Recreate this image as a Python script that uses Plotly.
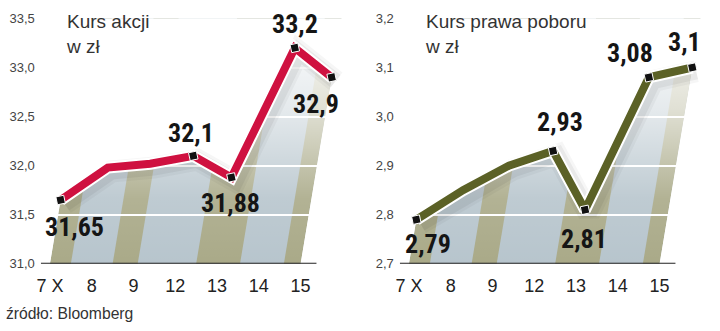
import plotly.graph_objects as go

# ---------------- data ----------------
days = ["7 X", "8", "9", "12", "13", "14", "15"]
kurs_akcji = [31.65, 31.98, 32.02, 32.10, 31.88, 33.20, 32.90]
kurs_pp = [2.79, 2.85, 2.90, 2.93, 2.81, 3.08, 3.10]
labeled = [True, False, False, True, True, True, True]
akcji_ticks = [31.0, 31.5, 32.0, 32.5, 33.0, 33.5]
pp_ticks = [2.7, 2.8, 2.9, 3.0, 3.1, 3.2]

# ---------------- style / layout ----------------
W, H = 720, 331
PX_PER_IDX = 42.0
XR = [-0.22, 7.2]
SKEW = 0.16 * 257 / PX_PER_IDX      # index shift over full y range
STRIPES = [(0.0, 0.5), (1.5, 2.1), (3.5, 4.55), (5.6, 6.0)]
KHAKI = "#a8a886"
BLUE = "#b6c4cc"
LABEL_FONT = ("Noto Sans ExtraCondensed, Noto Sans Condensed, Roboto Condensed, "
              "Liberation Sans Narrow, Arial Narrow, DejaVu Sans Condensed, sans-serif")
PLAIN_FONT = "Liberation Sans, Arial, sans-serif"

panels = [
    dict(vals=kurs_akcji, ticks=akcji_ticks, color="#cf1140", left=37,
         title="Kurs akcji<br>w zł",
         offs=[(14, -27), None, None, (-2, 23), (-1, -26), (0, 24), (-16, -27)]),
    dict(vals=kurs_pp, ticks=pp_ticks, color="#5b6126", left=398,
         title="Kurs prawa poboru<br>w zł",
         offs=[(12, -24), None, None, (7, 29), (-1, -29), (-19, 24), (-8, 26)]),
]

y_dom = [(H - 269) / H, (H - 12) / H]
fig = go.Figure()
shapes, annotations = [], []
layout_axes = {}

for p_i, p in enumerate(panels):
    sfx = "" if p_i == 0 else str(p_i + 1)
    xa, ya = "x" + sfx, "y" + sfx
    vals = p["vals"]
    ymin, ymax = p["ticks"][0], p["ticks"][-1]
    yr = ymax - ymin
    ppu_y = 257 / yr
    last = len(days) - 1
    xs = [i + SKEW * (v - ymin) / yr for i, v in enumerate(vals)]

    def para(a, b):
        return (f"M {a},{ymin} L {b},{ymin} L {b + SKEW},{ymax} L {a + SKEW},{ymax} Z")
    shapes.append(dict(type="path", path=para(0, last), xref=xa, yref=ya,
                       fillcolor=BLUE, line=dict(width=0), layer="below"))
    for a, b in STRIPES:
        shapes.append(dict(type="path", path=para(a, b), xref=xa, yref=ya,
                           fillcolor=KHAKI, line=dict(width=0), layer="below"))

    # fade to white upward
    fx = [0] + xs + [last]
    fy = [ymin] + vals + [ymin]
    fig.add_trace(go.Scatter(
        x=fx, y=fy, xaxis=xa, yaxis=ya, mode="lines", fill="toself",
        line=dict(width=0), hoverinfo="skip", showlegend=False,
        fillgradient=dict(type="vertical", start=ymin, stop=ymax,
                          colorscale=[[0, "rgba(255,255,255,0)"],
                                      [0.3, "rgba(255,255,255,0.12)"],
                                      [0.65, "rgba(255,255,255,0.65)"],
                                      [1, "rgba(255,255,255,1)"]])))
    # white mask outside the area
    mx = [XR[0], 0] + xs + [last, XR[1], XR[1], XR[0], XR[0]]
    my = [ymin, ymin] + vals + [ymin, ymin, ymax, ymax, ymin]
    fig.add_trace(go.Scatter(x=mx, y=my, xaxis=xa, yaxis=ya, mode="lines",
                             fill="toself", fillcolor="white", line=dict(width=0),
                             hoverinfo="skip", showlegend=False))
    # soft shadow
    for k, (w, a) in enumerate([(22, 0.035), (16, 0.05)]):
        dx, dy = 4 / PX_PER_IDX, 4 / ppu_y
        fig.add_trace(go.Scatter(x=[x + dx for x in xs], y=[v - dy for v in vals],
                                 xaxis=xa, yaxis=ya, mode="lines",
                                 line=dict(color=f"rgba(0,0,0,{a})", width=w),
                                 hoverinfo="skip", showlegend=False))
    fig.add_trace(go.Scatter(x=xs, y=vals, xaxis=xa, yaxis=ya, mode="lines",
                             line=dict(color="white", width=12),
                             hoverinfo="skip", showlegend=False))
    fig.add_trace(go.Scatter(x=xs, y=vals, xaxis=xa, yaxis=ya, mode="lines",
                             line=dict(color=p["color"], width=8),
                             hoverinfo="skip", showlegend=False))
    mxs = [x for x, l in zip(xs, labeled) if l]
    mys = [v for v, l in zip(vals, labeled) if l]
    fig.add_trace(go.Scatter(x=mxs, y=mys, xaxis=xa, yaxis=ya, mode="markers",
                             marker=dict(symbol="square", size=8, color="#111",
                                         angle=-12, line=dict(color="white", width=1)),
                             hoverinfo="skip", showlegend=False))

    for x, v, l, off in zip(xs, vals, labeled, p["offs"]):
        if not l:
            continue
        annotations.append(dict(
            x=x, y=v, xref=xa, yref=ya, text=f"{v:g}".replace(".", ","),
            showarrow=False, xshift=off[0], yshift=off[1],
            font=dict(family=LABEL_FONT, size=26, color="#151515", weight="bold")))

    shapes.append(dict(type="line", xref=xa, yref=ya, x0=XR[0], x1=last + 0.38,
                       y0=ymin, y1=ymin, line=dict(color="#222", width=2),
                       layer="above"))
    annotations.append(dict(xref="paper", yref="paper", x=(p["left"] + 23) / W,
                            y=1 - 2 / H, xanchor="left", yanchor="top",
                            text=p["title"], showarrow=False, align="left",
                            font=dict(family=PLAIN_FONT, size=19, color="#333")))

    x0 = p["left"] / W
    x1 = (p["left"] + (XR[1] - XR[0]) * PX_PER_IDX) / W
    layout_axes["xaxis" + sfx] = dict(
        domain=[x0, x1], range=XR, anchor=ya, tickmode="array",
        tickvals=list(range(len(days))), ticktext=days, showgrid=False,
        zeroline=False, showline=False, ticks="", ticklabelstandoff=9,
        tickfont=dict(family=PLAIN_FONT, size=18, color="#222"))
    layout_axes["yaxis" + sfx] = dict(
        domain=y_dom, range=[ymin, ymax], anchor=xa, tickmode="array",
        tickvals=p["ticks"], tickformat=".1f", showgrid=True, gridcolor="white",
        gridwidth=1.5, zeroline=False, showline=False, ticks="",
        ticklabelstandoff=5,
        tickfont=dict(family=PLAIN_FONT, size=13, color="#444"))

annotations.append(dict(xref="paper", yref="paper", x=0, y=(H - 321) / H,
                        xanchor="left", yanchor="middle", text="źródło: Bloomberg",
                        showarrow=False,
                        font=dict(family=PLAIN_FONT, size=15.7, color="#333")))

fig.update_layout(width=W, height=H, margin=dict(l=0, r=0, t=0, b=0),
                  paper_bgcolor="white", plot_bgcolor="white", separators=", ",
                  showlegend=False, shapes=shapes, annotations=annotations,
                  **layout_axes)
fig.write_html("out.html")
